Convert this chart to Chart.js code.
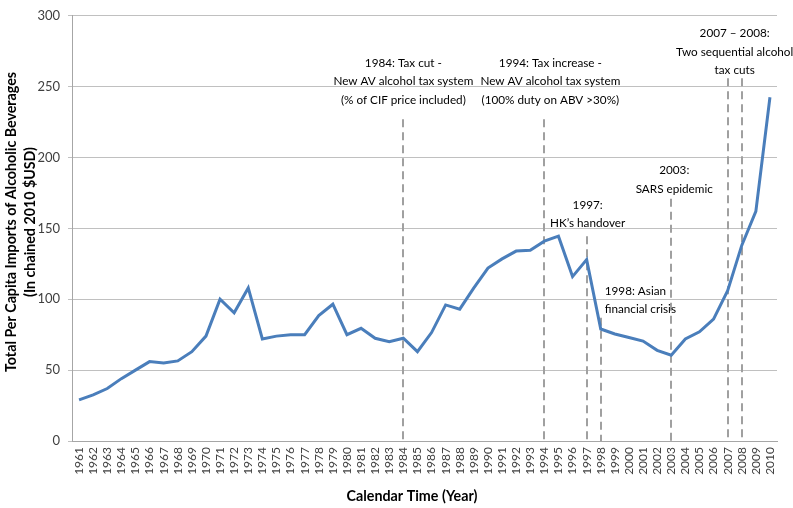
<!DOCTYPE html>
<html><head><meta charset="utf-8">
<script src="https://cdn.jsdelivr.net/npm/chart.js@4.4.1/dist/chart.umd.min.js"></script>
<style>html,body{margin:0;padding:0;background:#fff}</style>
</head><body>
<canvas id="c" width="793" height="508"></canvas>
<script>
const years = ["1961","1962","1963","1964","1965","1966","1967","1968","1969","1970",
"1971","1972","1973","1974","1975","1976","1977","1978","1979","1980",
"1981","1982","1983","1984","1985","1986","1987","1988","1989","1990",
"1991","1992","1993","1994","1995","1996","1997","1998","1999","2000",
"2001","2002","2003","2004","2005","2006","2007","2008","2009","2010"];
const importsPerCapita = [29,32.5,37,44,50,56,55,56.5,63,74,
100,90.5,108,72,74,75,75,88.5,96.5,75,
79.5,72.5,70,72.5,63,76.5,96,93,108,122,
128.5,134,134.5,141,144.5,116,128,79,75.5,73,
70.5,64,60.5,72,77,86,106,138,162,242.5];
const yTicks = [0,50,100,150,200,250,300];
const eventYears = ["1984","1994","1997","1998","2003","2007","2008"];
const eventLineTop = [227,227,144.5,87,171,256,256];
const eventNotes = [
  {year:"1984", lines:["1984: Tax cut -","New AV alcohol tax system","(% of CIF price included)"]},
  {year:"1994", lines:["1994: Tax increase -","New AV alcohol tax system","(100% duty on ABV >30%)"]},
  {year:"1997", lines:["1997:","HK\u2019s handover"]},
  {year:"1998", lines:["1998: Asian","financial crisis"]},
  {year:"2003", lines:["2003:","SARS epidemic"]},
  {year:"2007", lines:["2007 \u2013 2008:","Two sequential alcohol","tax cuts"]}
];
const xTitle = "Calendar Time (Year)";
const yTitle = ["Total Per Capita Imports of Alcoholic Beverages","(In chained 2010 $USD)"];
// layout of notes (value of first line centre, x offset px, alignment)
const noteLayout = {
  "1984":{v:266.8,dx:0,align:"center"},
  "1994":{v:266.8,dx:6,align:"center"},
  "1997":{v:166.6,dx:1,align:"center"},
  "1998":{v:105.7,dx:4,align:"left"},
  "2003":{v:190.7,dx:3,align:"center"},
  "2007":{v:287.5,dx:7,align:"center"}
};
const FONT = "Lato";
function fitSize(ctx, text, weight, target){
  ctx.font = weight + " 20px " + FONT;
  return 20 * target / ctx.measureText(text).width;
}
const overlay = {
  id:"overlay",
  beforeDatasetsDraw(chart){
    const {ctx, scales:{x,y}} = chart;
    ctx.save();
    ctx.strokeStyle = "#a0a0a0";
    ctx.lineWidth = 2;
    ctx.setLineDash([8,5]);
    eventYears.forEach((yr,i)=>{
      const px = Math.round(x.getPixelForValue(years.indexOf(yr)));
      ctx.beginPath();
      ctx.moveTo(px, y.getPixelForValue(eventLineTop[i]));
      ctx.lineTo(px, y.getPixelForValue(0));
      ctx.stroke();
    });
    ctx.restore();
  },
  afterDraw(chart){
    const {ctx, scales:{x,y}} = chart;
    ctx.save();
    ctx.fillStyle = "#000";
    ctx.textBaseline = "middle";
    const noteSize = fitSize(ctx, "New AV alcohol tax system", "normal", 140);
    ctx.font = noteSize.toFixed(2) + "px " + FONT;
    eventNotes.forEach(n=>{
      const L = noteLayout[n.year];
      const px = x.getPixelForValue(years.indexOf(n.year)) + L.dx;
      const py = y.getPixelForValue(L.v);
      ctx.textAlign = L.align;
      n.lines.forEach((t,k)=>ctx.fillText(t, px, py + k*18.5));
    });
    // axis titles
    ctx.textAlign = "center";
    const xs = fitSize(ctx, xTitle, "bold", 131);
    ctx.font = "bold " + xs.toFixed(2) + "px " + FONT;
    ctx.fillText(xTitle, 412, 496);
    const ys = fitSize(ctx, yTitle[0], "bold", 300);
    ctx.font = "bold " + ys.toFixed(2) + "px " + FONT;
    ctx.translate(11, 222);
    ctx.rotate(-Math.PI/2);
    ctx.fillText(yTitle[0], 0, 0);
    ctx.fillText(yTitle[1], 0, 19);
    ctx.restore();
  }
};
new Chart(document.getElementById("c"), {
  type:"line",
  data:{labels:years, datasets:[{data:importsPerCapita, borderColor:"#4a7ebb", borderWidth:3, pointRadius:0, tension:0, fill:false}]},
  options:{
    responsive:false, animation:false, devicePixelRatio:1,
    layout:{padding:{top:7,right:16,left:0,bottom:0}},
    plugins:{legend:{display:false}, tooltip:{enabled:false}},
    scales:{
      x:{type:"category", offset:true,
         grid:{display:true, drawOnChartArea:false, drawTicks:false, color:"transparent"},
         border:{color:"#a6a6a6", width:1},
         ticks:{autoSkip:false, minRotation:90, maxRotation:90, padding:6, color:"#404040", font:{family:FONT,size:12}},
         afterFit(s){ s.height = 67; }},
      y:{min:0, max:300,
         afterBuildTicks(s){ s.ticks = yTicks.map(v=>({value:v})); },
         grid:{color:"#c0c0c0", tickLength:4, lineWidth:1},
         border:{color:"#a6a6a6", width:1},
         ticks:{padding:8, color:"#404040", font:{family:FONT,size:13}},
         afterFit(s){ s.width = 72; }}
    }
  },
  plugins:[overlay]
});
</script>
</body></html>
